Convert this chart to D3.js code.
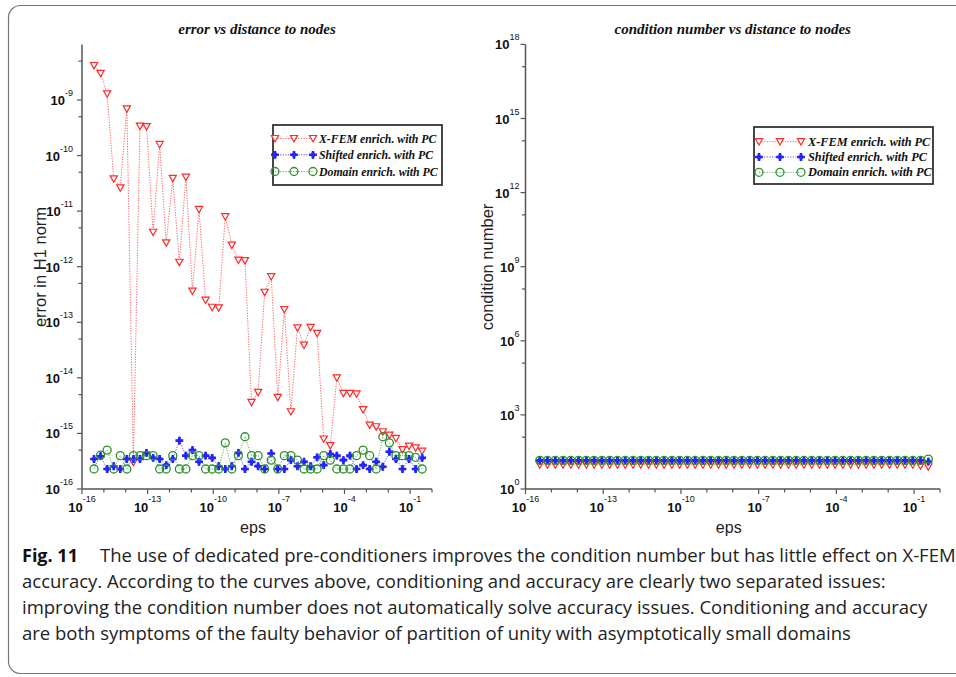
<!DOCTYPE html>
<html><head><meta charset="utf-8">
<script src="https://cdn.jsdelivr.net/npm/d3@7"></script>
<style>body{margin:0;background:#fff}</style>
</head><body>
<svg id="c" width="956" height="677"></svg>
<script>
// ---------- data ----------
const epsExp = [-15.45,-15.15,-14.85,-14.55,-14.25,-13.95,-13.65,-13.35,-13.05,-12.75,
  -12.45,-12.15,-11.85,-11.55,-11.25,-10.95,-10.65,-10.35,-10.05,-9.75,
  -9.45,-9.15,-8.85,-8.55,-8.25,-7.95,-7.65,-7.35,-7.05,-6.75,
  -6.45,-6.15,-5.85,-5.55,-5.25,-4.95,-4.65,-4.35,-4.05,-3.75,
  -3.45,-3.15,-2.85,-2.55,-2.25,-1.95,-1.65,-1.35,-1.05,-0.75,-0.45];
// log10 of error in H1 norm
const xfemErrLog = [-8.38,-8.52,-8.89,-10.42,-10.58,-9.16,-15.52,-9.47,-9.48,-11.38,
  -9.80,-11.57,-10.41,-11.92,-10.39,-12.44,-10.97,-12.60,-12.73,-12.74,
  -11.10,-11.61,-11.88,-11.89,-14.44,-14.26,-12.46,-12.18,-14.35,-12.77,
  -14.61,-13.10,-13.41,-13.09,-13.20,-15.10,-15.22,-14.00,-14.28,-14.28,
  -14.29,-14.57,-14.85,-14.88,-14.97,-15.03,-15.09,-15.29,-15.23,-15.26,-15.32];
const shiftedErrLog = [-15.46,-15.41,-15.64,-15.59,-15.64,-15.46,-15.46,-15.46,-15.35,-15.44,
  -15.46,-15.57,-15.46,-15.13,-15.40,-15.30,-15.51,-15.40,-15.44,-15.59,
  -15.64,-15.59,-15.35,-15.64,-15.51,-15.59,-15.64,-15.36,-15.64,-15.64,
  -15.48,-15.59,-15.51,-15.59,-15.43,-15.57,-15.37,-15.40,-15.48,-15.40,
  -15.64,-15.57,-15.64,-15.51,-15.60,-15.33,-15.46,-15.64,-15.46,-15.64,-15.44];
const domainErrLog = [-15.64,-15.39,-15.30,-15.64,-15.40,-15.64,-15.40,-15.40,-15.40,-15.40,
  -15.64,-15.64,-15.40,-15.64,-15.64,-15.40,-15.40,-15.64,-15.64,-15.64,
  -15.17,-15.64,-15.40,-15.06,-15.40,-15.40,-15.64,-15.48,-15.64,-15.40,
  -15.40,-15.48,-15.64,-15.64,-15.64,-15.40,-15.48,-15.64,-15.64,-15.64,
  -15.40,-15.30,-15.40,-15.64,-15.06,-15.17,-15.40,-15.40,-15.40,-15.43,-15.64];
// log10 of condition number
const xfemCondLog = [0.98,0.98,0.98,0.98,0.98,0.98,0.98,0.98,0.98,0.98,
  0.98,0.98,0.98,0.98,0.98,0.98,0.98,0.98,0.98,0.98,
  0.98,0.98,0.98,0.98,0.98,0.98,0.98,0.98,0.98,0.98,
  0.98,0.98,0.98,0.98,0.98,0.98,0.98,0.98,0.98,0.98,
  0.98,0.98,0.98,0.98,0.98,0.98,0.98,0.98,0.98,0.94,0.90];
const shiftedCondLog = [1.16,1.16,1.16,1.16,1.16,1.16,1.16,1.16,1.16,1.16,
  1.16,1.16,1.16,1.16,1.16,1.16,1.16,1.16,1.16,1.16,
  1.16,1.16,1.16,1.16,1.16,1.16,1.16,1.16,1.16,1.16,
  1.16,1.16,1.16,1.16,1.16,1.16,1.16,1.16,1.16,1.16,
  1.16,1.16,1.16,1.16,1.16,1.16,1.16,1.16,1.16,1.16,1.11];
const domainCondLog = [1.16,1.16,1.16,1.16,1.16,1.16,1.16,1.16,1.16,1.16,
  1.16,1.16,1.16,1.16,1.16,1.16,1.16,1.16,1.16,1.16,
  1.16,1.16,1.16,1.16,1.16,1.16,1.16,1.16,1.16,1.16,
  1.16,1.16,1.16,1.16,1.16,1.16,1.16,1.16,1.16,1.16,
  1.16,1.16,1.16,1.16,1.16,1.16,1.16,1.16,1.16,1.16,1.21];
const seriesNames = ["X-FEM enrich. with PC","Shifted enrich. with PC","Domain enrich. with PC"];
const xMajorExp = [-16,-13,-10,-7,-4,-1];
const errMajorExp = [-16,-15,-14,-13,-12,-11,-10,-9];
const condMajorExp = [0,3,6,9,12,15,18];
const titles = ["error vs distance to nodes","condition number vs distance to nodes"];
const yTitles = ["error in H1 norm","condition number"];
const xTitle = "eps";
const captionLines = [
  "The use of dedicated pre-conditioners improves the condition number but has little effect on X-FEM",
  "accuracy. According to the curves above, conditioning and accuracy are clearly two separated issues:",
  "improving the condition number does not automatically solve accuracy issues. Conditioning and accuracy",
  "are both symptoms of the faulty behavior of partition of unity with asymptotically small domains"];

// ---------- drawing ----------
const svg = d3.select("#c");
const colors = ["#ff2a2a","#2424ff","#2e922e"];
const axisCol = "#555";

svg.append("rect").attr("x",8.5).attr("y",5.5).attr("width",980).attr("height",668)
  .attr("rx",12).attr("fill","none").attr("stroke","#777").attr("stroke-width",1.2);

function drawMarker(g, k, x, y){
  if(k===0){
    g.append("path").attr("d",`M${x-3.6},${y-3}L${x+3.6},${y-3}L${x},${y+3.4}Z`)
      .attr("fill","#fff").attr("stroke",colors[0]).attr("stroke-width",1.2);
  } else if(k===1){
    g.append("path").attr("transform",`translate(${x},${y})`)
      .attr("d",d3.symbol(d3.symbolCross,34)()).attr("fill",colors[1]);
    g.append("path").attr("transform",`translate(${x},${y})`)
      .attr("d",d3.symbol(d3.symbolDiamond,22)()).attr("fill",colors[1]);
  } else {
    g.append("circle").attr("cx",x).attr("cy",y).attr("r",4)
      .attr("fill","none").attr("stroke",colors[2]).attr("stroke-width",1.3);
  }
}

function panel(cfg){
  const x = d3.scaleLog().domain([1e-16,1]).range([cfg.x0,cfg.x1]);
  const y = d3.scaleLog().domain(cfg.yDom).range([489,44.4]);
  const g = svg.append("g");
  g.append("line").attr("x1",cfg.x0).attr("x2",cfg.x1).attr("y1",489).attr("y2",489)
    .attr("stroke",axisCol).attr("stroke-width",1.5);
  g.append("line").attr("x1",cfg.x0).attr("x2",cfg.x0).attr("y1",489).attr("y2",44.4)
    .attr("stroke",axisCol).attr("stroke-width",1.5);
  for(let e=-16;e<=0;e++){
    const major = xMajorExp.includes(e);
    const px = x(Math.pow(10,e));
    g.append("line").attr("x1",px).attr("x2",px).attr("y1",489).attr("y2",489+(major?5:3.5))
      .attr("stroke",axisCol).attr("stroke-width",1.2);
    if(major){
      const t = g.append("text").attr("x",px).attr("y",512).attr("text-anchor","middle")
        .attr("font-family","Liberation Sans, Arial, sans-serif").attr("font-size",13)
        .attr("font-weight","bold").attr("fill","#111").text("10");
      t.append("tspan").attr("dy",-10).attr("font-size",9).attr("font-weight","normal").text(String(e));
    }
  }
  const majors = cfg.yMajor;
  for(let i=0;i<majors.length;i++){
    const e = majors[i];
    const py = y(Math.pow(10,e));
    g.append("line").attr("x1",cfg.x0).attr("x2",cfg.x0-5).attr("y1",py).attr("y2",py)
      .attr("stroke",axisCol).attr("stroke-width",1.2);
    const t = g.append("text").attr("x",cfg.x0-cfg.labGap).attr("y",py+5).attr("text-anchor","end")
      .attr("font-family","Liberation Sans, Arial, sans-serif").attr("font-size",13)
      .attr("font-weight","bold").attr("fill","#111").text("10");
    t.append("tspan").attr("dy",-9).attr("font-size",9).attr("font-weight","normal").text(String(e));
    if(i<majors.length-1 || cfg.topMinor){
      const pm = y(Math.pow(10,e+cfg.step*Math.log10(5)));
      g.append("line").attr("x1",cfg.x0).attr("x2",cfg.x0-3.5).attr("y1",pm).attr("y2",pm)
        .attr("stroke",axisCol).attr("stroke-width",1.2);
    }
  }
  g.append("text").attr("x",(cfg.x0+cfg.x1)/2).attr("y",34).attr("text-anchor","middle")
    .attr("font-family","Liberation Serif, Times New Roman, serif").attr("font-style","italic")
    .attr("font-weight","bold").attr("font-size",15).attr("fill","#111").text(cfg.title);
  g.append("text").attr("x",(cfg.x0+cfg.x1)/2 - 4).attr("y",533).attr("text-anchor","middle")
    .attr("font-family","Liberation Sans, Arial, sans-serif").attr("font-size",16)
    .attr("fill","#222").text(xTitle);
  g.append("text").attr("transform",`translate(${cfg.ytx},267) rotate(-90)`).attr("text-anchor","middle")
    .attr("font-family","Liberation Sans, Arial, sans-serif").attr("font-size",16.5)
    .attr("fill","#222").text(cfg.yTitle);
  cfg.series.forEach((vals,k)=>{
    const pts = vals.map((v,i)=>[x(Math.pow(10,epsExp[i])), y(Math.pow(10,v))]);
    g.append("path").attr("d",d3.line()(pts)).attr("fill","none").attr("stroke",colors[k])
      .attr("stroke-width",1).attr("stroke-dasharray","1.2,1.4").attr("opacity",0.75);
  });
  cfg.series.forEach((vals,k)=>{
    vals.forEach((v,i)=>drawMarker(g,k,x(Math.pow(10,epsExp[i])),y(Math.pow(10,v))));
  });
  const L = cfg.leg;
  g.append("rect").attr("x",L.x).attr("y",L.y).attr("width",L.w).attr("height",L.h)
    .attr("fill","#fff").attr("stroke","#333").attr("stroke-width",1.8);
  seriesNames.forEach((nm,k)=>{
    const ry = L.rows[k];
    g.append("line").attr("x1",L.mx[0]).attr("x2",L.mx[2]).attr("y1",ry).attr("y2",ry)
      .attr("stroke",colors[k]).attr("stroke-width",1).attr("stroke-dasharray","1.2,1.4").attr("opacity",0.75);
    L.mx.forEach(mx=>drawMarker(g,k,mx,ry));
    g.append("text").attr("x",L.tx).attr("y",ry+4).attr("font-family","Liberation Serif, Times New Roman, serif")
      .attr("font-style","italic").attr("font-weight","bold").attr("font-size",L.fs).attr("fill","#111").text(nm);
  });
}

panel({x0:82,x1:432,yDom:[1e-16,1e-8],yMajor:errMajorExp,step:1,topMinor:true,labGap:9,
  title:titles[0],yTitle:yTitles[0],ytx:46,
  series:[xfemErrLog,shiftedErrLog,domainErrLog],
  leg:{x:273,y:125,w:169,h:60,rows:[138.5,154.8,171.5],mx:[275,294,313],tx:319,fs:11.8}});
panel({x0:525.5,x1:940,yDom:[1,1e18],yMajor:condMajorExp,step:3,topMinor:false,labGap:6,
  title:titles[1],yTitle:yTitles[1],ytx:493,
  series:[xfemCondLog,shiftedCondLog,domainCondLog],
  leg:{x:754,y:127,w:179,h:57,rows:[141.7,157,172.3],mx:[759,780,801],tx:808,fs:12.3}});

const cap = svg.append("g").attr("font-family","Open Sans, Noto Sans, sans-serif").attr("font-size",18.5).attr("fill","#222");
const first = cap.append("text").attr("x",22).attr("y",562);
first.append("tspan").attr("font-weight","bold").attr("font-size",18).attr("fill","#111").text("Fig. 11");
first.append("tspan").attr("x",100).text(captionLines[0]);
captionLines.slice(1).forEach((ln,i)=>{
  cap.append("text").attr("x",22).attr("y",588+26*i).text(ln);
});
</script>
</body></html>
